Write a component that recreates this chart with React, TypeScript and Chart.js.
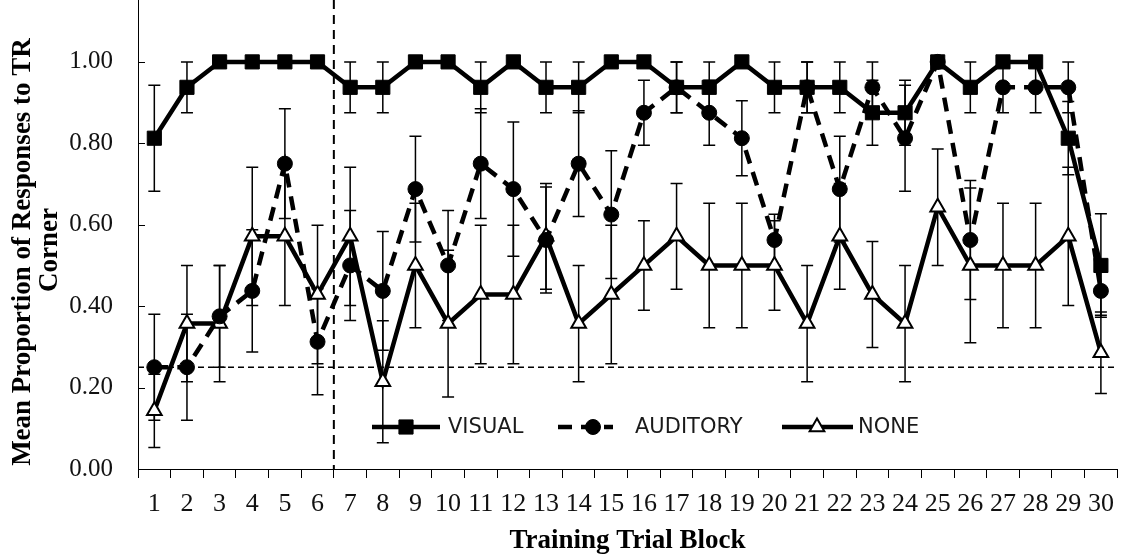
import React, { useEffect, useRef } from 'react';
import { Chart, registerables } from 'chart.js';

Chart.register(...registerables);

// Training trial blocks (x-axis categories)
const blocks = [
  '1', '2', '3', '4', '5', '6', '7', '8', '9', '10',
  '11', '12', '13', '14', '15', '16', '17', '18', '19', '20',
  '21', '22', '23', '24', '25', '26', '27', '28', '29', '30',
];

// Mean proportion of responses to the TR corner, per condition
const visualMean = [
  0.8125, 0.9375, 1, 1, 1, 1, 0.9375, 0.9375, 1, 1,
  0.9375, 1, 0.9375, 0.9375, 1, 1, 0.9375, 0.9375, 1, 0.9375,
  0.9375, 0.9375, 0.875, 0.875, 1, 0.9375, 1, 1, 0.8125, 0.5,
];
const auditoryMean = [
  0.25, 0.25, 0.375, 0.4375, 0.75, 0.3125, 0.5, 0.4375, 0.6875, 0.5,
  0.75, 0.6875, 0.5625, 0.75, 0.625, 0.875, 0.9375, 0.875, 0.8125, 0.5625,
  0.9375, 0.6875, 0.9375, 0.8125, 1, 0.5625, 0.9375, 0.9375, 0.9375, 0.4375,
];
const noneMean = [
  0.1429, 0.3571, 0.3571, 0.5714, 0.5714, 0.4286, 0.5714, 0.2143, 0.5, 0.3571,
  0.4286, 0.4286, 0.5714, 0.3571, 0.4286, 0.5, 0.5714, 0.5, 0.5, 0.5,
  0.3571, 0.5714, 0.4286, 0.3571, 0.6429, 0.5, 0.5, 0.5, 0.5714, 0.2857,
];

// Standard errors (half-length of each error bar)
const visualErr = [
  0.13, 0.0625, 0, 0, 0, 0, 0.0625, 0.0625, 0, 0,
  0.0625, 0, 0.0625, 0.0625, 0, 0, 0.0625, 0.0625, 0, 0.0625,
  0.0625, 0.0625, 0.08, 0.08, 0, 0.0625, 0, 0, 0.09, 0.127,
];
const auditoryErr = [
  0.13, 0.13, 0.125, 0.15, 0.135, 0.13, 0.135, 0.146, 0.13, 0.135,
  0.135, 0.165, 0.13, 0.13, 0.157, 0.08, 0.0625, 0.08, 0.092, 0.063,
  0.0625, 0.13, 0.0625, 0.13, 0, 0.146, 0.0625, 0.0625, 0.0625, 0.06,
];
const noneErr = [
  0.09, 0.143, 0.143, 0.17, 0.17, 0.17, 0.17, 0.15, 0.153, 0.18,
  0.17, 0.17, 0.13, 0.143, 0.17, 0.11, 0.13, 0.153, 0.153, 0.11,
  0.143, 0.13, 0.13, 0.143, 0.143, 0.19, 0.153, 0.153, 0.17, 0.1,
];

const seriesNames = ['VISUAL', 'AUDITORY', 'NONE'];
const chanceLevel = 0.25;
// Last block of the first training phase (dashed divider drawn after it)
const phaseEndIndex = 5;

const yTitleLines = ['Mean Proportion of Responses to TR', 'Corner'];
const xTitle = 'Training Trial Block';

const errorsByDataset = [visualErr, auditoryErr, noneErr];

// Marker shapes matching Chart.js point styles, used for the legend samples
function drawMarker(ctx: CanvasRenderingContext2D, style: string, r: number, x: number, y: number) {
  ctx.beginPath();
  if (style === 'rect') {
    const h = r * Math.SQRT1_2;
    ctx.rect(x - h, y - h, 2 * h, 2 * h);
  } else if (style === 'triangle') {
    ctx.moveTo(x, y - r);
    ctx.lineTo(x + r * 0.866, y + r * 0.5);
    ctx.lineTo(x - r * 0.866, y + r * 0.5);
    ctx.closePath();
  } else {
    ctx.arc(x, y, r, 0, Math.PI * 2);
  }
  ctx.fill();
  ctx.stroke();
}

const overlayPlugin = {
  id: 'overlay',
  beforeDatasetsDraw(chart: any) {
    const { ctx, chartArea, scales } = chart;
    const x = scales.x;
    const y = scales.y;
    ctx.save();
    // chance line
    const yc = y.getPixelForValue(chanceLevel);
    ctx.strokeStyle = '#000';
    ctx.lineWidth = 1.5;
    ctx.setLineDash([6, 4]);
    ctx.beginPath();
    ctx.moveTo(chartArea.left, yc);
    ctx.lineTo(chartArea.right, yc);
    ctx.stroke();
    // phase divider
    const xd = (x.getPixelForValue(phaseEndIndex) + x.getPixelForValue(phaseEndIndex + 1)) / 2;
    ctx.lineWidth = 2;
    ctx.setLineDash([9, 6]);
    ctx.beginPath();
    ctx.moveTo(xd, chartArea.top);
    ctx.lineTo(xd, chartArea.bottom);
    ctx.stroke();
    ctx.setLineDash([]);
    // error bars
    ctx.lineWidth = 1.5;
    chart.data.datasets.forEach((ds: any, di: number) => {
      const errs = errorsByDataset[di];
      const meta = chart.getDatasetMeta(di);
      meta.data.forEach((pt: any, i: number) => {
        const e = errs[i];
        if (!e) return;
        const v = ds.data[i];
        const top = y.getPixelForValue(v + e);
        const bot = y.getPixelForValue(v - e);
        ctx.beginPath();
        ctx.moveTo(pt.x, top);
        ctx.lineTo(pt.x, bot);
        ctx.moveTo(pt.x - 6, top);
        ctx.lineTo(pt.x + 6, top);
        ctx.moveTo(pt.x - 6, bot);
        ctx.lineTo(pt.x + 6, bot);
        ctx.stroke();
      });
    });
    ctx.restore();
  },
  afterDraw(chart: any) {
    const { ctx, chartArea, scales } = chart;
    const y = scales.y;
    ctx.save();
    // inward y tick marks
    ctx.strokeStyle = '#000';
    ctx.lineWidth = 1;
    y.ticks.forEach((t: any) => {
      const py = Math.round(y.getPixelForValue(t.value)) + 0.5;
      ctx.beginPath();
      ctx.moveTo(chartArea.left, py);
      ctx.lineTo(chartArea.left + 7, py);
      ctx.stroke();
    });

    // legend inside the plot
    const legendY = 427;
    const items = [
      { x1: 372, x2: 440, mx: 406, tx: 448 },
      { x1: 558, x2: 613, mx: 593, tx: 635 },
      { x1: 782, x2: 853, mx: 817, tx: 858 },
    ];
    chart.data.datasets.forEach((ds: any, di: number) => {
      const it = items[di];
      ctx.save();
      ctx.strokeStyle = '#000';
      ctx.lineWidth = ds.borderWidth;
      ctx.setLineDash(ds.borderDash || []);
      ctx.beginPath();
      ctx.moveTo(it.x1, legendY);
      ctx.lineTo(it.x2, legendY);
      ctx.stroke();
      ctx.setLineDash([]);
      ctx.fillStyle = ds.pointBackgroundColor;
      ctx.strokeStyle = '#000';
      ctx.lineWidth = ds.pointBorderWidth;
      drawMarker(ctx, ds.pointStyle, ds.pointRadius, it.mx, legendY);
      ctx.restore();
      ctx.fillStyle = '#1a1a1a';
      ctx.font = '21px "DejaVu Sans"';
      ctx.textAlign = 'left';
      ctx.textBaseline = 'middle';
      ctx.fillText(ds.label, it.tx, legendY + 1);
    });

    // axis titles
    ctx.fillStyle = '#000';
    ctx.font = 'bold 27px "Liberation Serif"';
    ctx.textAlign = 'center';
    ctx.textBaseline = 'middle';
    ctx.fillText(xTitle, (chartArea.left + chartArea.right) / 2, 541);
    ctx.save();
    ctx.translate(23, 252);
    ctx.rotate(-Math.PI / 2);
    ctx.fillText(yTitleLines[0], 0, 0);
    ctx.restore();
    ctx.save();
    ctx.translate(50, 250);
    ctx.rotate(-Math.PI / 2);
    ctx.fillText(yTitleLines[1], 0, 0);
    ctx.restore();
    ctx.restore();
  },
};

export default function App() {
  const canvasRef = useRef<HTMLCanvasElement>(null);

  useEffect(() => {
    document.body.style.margin = '0';
    const canvas = canvasRef.current;
    if (!canvas) return;
    const chart = new Chart(canvas, {
      type: 'line',
      data: {
        labels: blocks,
        datasets: [
          {
            label: seriesNames[0],
            data: visualMean,
            borderColor: '#000',
            borderWidth: 4.5,
            pointStyle: 'rect',
            pointRadius: 10,
            pointBackgroundColor: '#000',
            pointBorderColor: '#000',
            pointBorderWidth: 1,
            tension: 0,
          },
          {
            label: seriesNames[1],
            data: auditoryMean,
            borderColor: '#000',
            borderWidth: 4.5,
            borderDash: [14, 9],
            pointStyle: 'circle',
            pointRadius: 7.5,
            pointBackgroundColor: '#000',
            pointBorderColor: '#000',
            pointBorderWidth: 1,
            tension: 0,
          },
          {
            label: seriesNames[2],
            data: noneMean,
            borderColor: '#000',
            borderWidth: 4.5,
            pointStyle: 'triangle',
            pointRadius: 8.5,
            pointBackgroundColor: '#fff',
            pointBorderColor: '#000',
            pointBorderWidth: 2,
            tension: 0,
          },
        ],
      },
      options: {
        responsive: false,
        animation: false,
        devicePixelRatio: 1,
        layout: { autoPadding: false, padding: { left: 0, right: 6, top: 0, bottom: 0 } },
        plugins: {
          legend: { display: false },
          tooltip: { enabled: false },
        },
        scales: {
          x: {
            type: 'category',
            offset: true,
            grid: {
              display: true,
              drawOnChartArea: false,
              drawTicks: true,
              tickLength: 9,
              offset: true,
              color: '#000',
              lineWidth: 1,
            },
            border: { display: true, color: '#000', width: 1 },
            ticks: {
              font: { family: 'Liberation Serif', size: 26 },
              color: '#111',
              padding: 11,
              maxRotation: 0,
              autoSkip: false,
            },
            afterFit: (s: any) => {
              s.height = 87;
            },
          },
          y: {
            min: 0,
            max: 1.152,
            grid: { display: false, drawTicks: false },
            border: { display: true, color: '#000', width: 1 },
            ticks: {
              stepSize: 0.2,
              includeBounds: false,
              callback: (v: any) => Number(v).toFixed(2),
              font: { family: 'Liberation Serif', size: 25 },
              color: '#111',
              padding: 25,
            },
            afterFit: (s: any) => {
              s.width = 138;
              s.paddingTop = 0;
              s.paddingBottom = 0;
            },
          },
        },
      },
      plugins: [overlayPlugin],
    } as any);
    return () => chart.destroy();
  }, []);

  return (
    <div style={{ width: 1125, height: 556, background: '#fff' }}>
      <canvas ref={canvasRef} width={1125} height={556} />
    </div>
  );
}
